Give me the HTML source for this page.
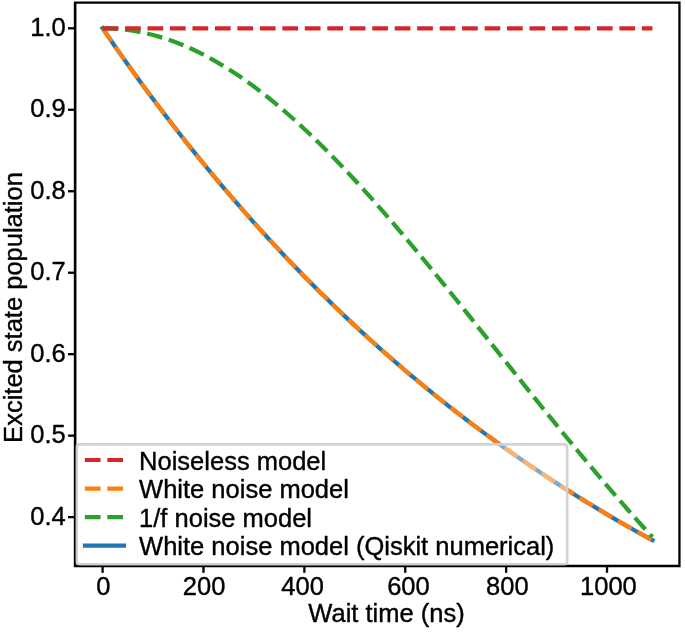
<!DOCTYPE html>
<html><head><meta charset="utf-8"><title>Excited state population vs wait time</title>
<style>
html,body{margin:0;padding:0;background:#fff;}
body{width:685px;height:633px;overflow:hidden;}
svg{display:block;}
text{font-family:"Liberation Sans",sans-serif;font-size:25.50px;fill:#000;stroke:#000;stroke-width:0.38px;stroke-linejoin:round;}
</style></head><body>
<svg width="685" height="633" viewBox="0 0 685 633">
<rect x="0" y="0" width="685" height="633" fill="#fff"/>

<g fill="none" stroke-width="4.24">
<path d="M102.59 28.30 L107.63 35.66 L112.68 42.96 L117.72 50.19 L122.77 57.36 L127.81 64.46 L132.86 71.49 L137.90 78.47 L142.94 85.38 L147.99 92.23 L153.03 99.01 L158.08 105.74 L163.12 112.40 L168.17 119.00 L173.21 125.55 L178.25 132.03 L183.30 138.46 L188.34 144.82 L193.39 151.13 L198.43 157.39 L203.48 163.58 L208.52 169.73 L213.56 175.81 L218.61 181.84 L223.65 187.82 L228.70 193.74 L233.74 199.61 L238.79 205.42 L243.83 211.18 L248.87 216.89 L253.92 222.55 L258.96 228.16 L264.01 233.72 L269.05 239.23 L274.10 244.68 L279.14 250.09 L284.18 255.45 L289.23 260.76 L294.27 266.02 L299.32 271.24 L304.36 276.40 L309.41 281.53 L314.45 286.60 L319.49 291.63 L324.54 296.61 L329.58 301.55 L334.63 306.44 L339.67 311.29 L344.72 316.10 L349.76 320.86 L354.81 325.58 L359.85 330.26 L364.89 334.89 L369.94 339.48 L374.98 344.04 L380.03 348.55 L385.07 353.01 L390.12 357.44 L395.16 361.83 L400.20 366.18 L405.25 370.49 L410.29 374.76 L415.34 378.99 L420.38 383.19 L425.43 387.34 L430.47 391.46 L435.51 395.54 L440.56 399.59 L445.60 403.59 L450.65 407.57 L455.69 411.50 L460.74 415.40 L465.78 419.27 L470.82 423.10 L475.87 426.89 L480.91 430.65 L485.96 434.38 L491.00 438.07 L496.05 441.73 L501.09 445.36 L506.13 448.95 L511.18 452.51 L516.22 456.04 L521.27 459.54 L526.31 463.01 L531.36 466.44 L536.40 469.84 L541.44 473.22 L546.49 476.56 L551.53 479.87 L556.58 483.15 L561.62 486.41 L566.67 489.63 L571.71 492.82 L576.75 495.99 L581.80 499.12 L586.84 502.23 L591.89 505.31 L596.93 508.36 L601.98 511.39 L607.02 514.39 L612.06 517.36 L617.11 520.30 L622.15 523.22 L627.20 526.11 L632.24 528.97 L637.29 531.81 L642.33 534.62 L647.37 537.41 L652.42 540.17" stroke="#1f77b4" stroke-linecap="square" stroke-linejoin="round"/>
<path d="M102.59 28.30 L107.63 35.66 L112.68 42.96 L117.72 50.19 L122.77 57.36 L127.81 64.46 L132.86 71.49 L137.90 78.47 L142.94 85.38 L147.99 92.23 L153.03 99.01 L158.08 105.74 L163.12 112.40 L168.17 119.00 L173.21 125.55 L178.25 132.03 L183.30 138.46 L188.34 144.82 L193.39 151.13 L198.43 157.39 L203.48 163.58 L208.52 169.73 L213.56 175.81 L218.61 181.84 L223.65 187.82 L228.70 193.74 L233.74 199.61 L238.79 205.42 L243.83 211.18 L248.87 216.89 L253.92 222.55 L258.96 228.16 L264.01 233.72 L269.05 239.23 L274.10 244.68 L279.14 250.09 L284.18 255.45 L289.23 260.76 L294.27 266.02 L299.32 271.24 L304.36 276.40 L309.41 281.53 L314.45 286.60 L319.49 291.63 L324.54 296.61 L329.58 301.55 L334.63 306.44 L339.67 311.29 L344.72 316.10 L349.76 320.86 L354.81 325.58 L359.85 330.26 L364.89 334.89 L369.94 339.48 L374.98 344.04 L380.03 348.55 L385.07 353.01 L390.12 357.44 L395.16 361.83 L400.20 366.18 L405.25 370.49 L410.29 374.76 L415.34 378.99 L420.38 383.19 L425.43 387.34 L430.47 391.46 L435.51 395.54 L440.56 399.59 L445.60 403.59 L450.65 407.57 L455.69 411.50 L460.74 415.40 L465.78 419.27 L470.82 423.10 L475.87 426.89 L480.91 430.65 L485.96 434.38 L491.00 438.07 L496.05 441.73 L501.09 445.36 L506.13 448.95 L511.18 452.51 L516.22 456.04 L521.27 459.54 L526.31 463.01 L531.36 466.44 L536.40 469.84 L541.44 473.22 L546.49 476.56 L551.53 479.87 L556.58 483.15 L561.62 486.41 L566.67 489.63 L571.71 492.82 L576.75 495.99 L581.80 499.12 L586.84 502.23 L591.89 505.31 L596.93 508.36 L601.98 511.39 L607.02 514.39 L612.06 517.36 L617.11 520.30 L622.15 523.22 L627.20 526.11 L632.24 528.97 L637.29 531.81 L642.33 534.62 L647.37 537.41 L652.42 540.17" stroke="#ff7f0e" stroke-dasharray="15.69 6.78"/>
<path d="M102.59 28.30 L107.63 28.37 L112.68 28.57 L117.72 28.90 L122.77 29.37 L127.81 29.98 L132.86 30.71 L137.90 31.58 L142.94 32.59 L147.99 33.72 L153.03 34.99 L158.08 36.39 L163.12 37.91 L168.17 39.57 L173.21 41.36 L178.25 43.27 L183.30 45.31 L188.34 47.48 L193.39 49.77 L198.43 52.19 L203.48 54.73 L208.52 57.39 L213.56 60.17 L218.61 63.06 L223.65 66.08 L228.70 69.21 L233.74 72.46 L238.79 75.82 L243.83 79.29 L248.87 82.87 L253.92 86.56 L258.96 90.35 L264.01 94.25 L269.05 98.25 L274.10 102.35 L279.14 106.55 L284.18 110.85 L289.23 115.24 L294.27 119.73 L299.32 124.31 L304.36 128.97 L309.41 133.72 L314.45 138.56 L319.49 143.48 L324.54 148.48 L329.58 153.55 L334.63 158.71 L339.67 163.93 L344.72 169.23 L349.76 174.59 L354.81 180.03 L359.85 185.52 L364.89 191.08 L369.94 196.70 L374.98 202.38 L380.03 208.11 L385.07 213.89 L390.12 219.72 L395.16 225.60 L400.20 231.53 L405.25 237.50 L410.29 243.51 L415.34 249.56 L420.38 255.64 L425.43 261.76 L430.47 267.91 L435.51 274.08 L440.56 280.29 L445.60 286.51 L450.65 292.76 L455.69 299.03 L460.74 305.32 L465.78 311.62 L470.82 317.93 L475.87 324.26 L480.91 330.59 L485.96 336.93 L491.00 343.27 L496.05 349.62 L501.09 355.96 L506.13 362.30 L511.18 368.64 L516.22 374.97 L521.27 381.29 L526.31 387.61 L531.36 393.91 L536.40 400.19 L541.44 406.46 L546.49 412.72 L551.53 418.95 L556.58 425.16 L561.62 431.35 L566.67 437.51 L571.71 443.65 L576.75 449.76 L581.80 455.84 L586.84 461.88 L591.89 467.90 L596.93 473.88 L601.98 479.83 L607.02 485.74 L612.06 491.61 L617.11 497.44 L622.15 503.23 L627.20 508.98 L632.24 514.68 L637.29 520.34 L642.33 525.96 L647.37 531.53 L652.42 537.05" stroke="#2ca02c" stroke-dasharray="15.69 6.78"/>
<path d="M102.59 28.30 L652.42 28.30" stroke="#d62728" stroke-dasharray="15.69 6.78"/>
</g>
<g stroke="#000" stroke-width="2.3">
<line x1="102.59" y1="565.90" x2="102.59" y2="572.85"/>
<line x1="203.48" y1="565.90" x2="203.48" y2="572.85"/>
<line x1="304.36" y1="565.90" x2="304.36" y2="572.85"/>
<line x1="405.25" y1="565.90" x2="405.25" y2="572.85"/>
<line x1="506.13" y1="565.90" x2="506.13" y2="572.85"/>
<line x1="607.02" y1="565.90" x2="607.02" y2="572.85"/>
<line x1="75.12" y1="517.12" x2="68.02" y2="517.12"/>
<line x1="75.12" y1="435.65" x2="68.02" y2="435.65"/>
<line x1="75.12" y1="354.18" x2="68.02" y2="354.18"/>
<line x1="75.12" y1="272.71" x2="68.02" y2="272.71"/>
<line x1="75.12" y1="191.24" x2="68.02" y2="191.24"/>
<line x1="75.12" y1="109.77" x2="68.02" y2="109.77"/>
<line x1="75.12" y1="28.30" x2="68.02" y2="28.30"/>
</g>
<path fill="#000" fill-rule="evenodd" d="M73.820 1.475H680.600V567.125H73.820Z M76.420 3.725H678.300V564.675H76.420Z"/>
<g text-anchor="middle">
<text x="103.29" y="594.50">0</text>
<text x="204.08" y="594.50">200</text>
<text x="302.56" y="594.50">400</text>
<text x="408.40" y="594.50">600</text>
<text x="507.33" y="594.50">800</text>
<text x="608.42" y="594.50">1000</text>
</g>
<g text-anchor="end">
<text x="65.80" y="524.52">0.4</text>
<text x="65.80" y="443.05">0.5</text>
<text x="65.80" y="361.58">0.6</text>
<text x="65.80" y="280.11">0.7</text>
<text x="65.80" y="198.64">0.8</text>
<text x="65.80" y="117.17">0.9</text>
<text x="65.80" y="35.70">1.0</text>
</g>
<text x="386.50" y="621.80" text-anchor="middle">Wait time (ns)</text>
<text transform="translate(22.40 307.50) rotate(-90)" text-anchor="middle">Excited state population</text>
<rect x="76.85" y="444.40" width="490.30" height="119.90" rx="2.8" ry="2.8" fill="#fff" fill-opacity="0.4" stroke="#d0d0d0" stroke-opacity="0.94" stroke-width="2.6"/>
<path d="M84.85 460.00 L123.6 460.00" fill="none" stroke="#d62728" stroke-width="4.24" stroke-dasharray="15.69 6.78"/>
<text x="139.10" y="469.60">Noiseless model</text>
<path d="M84.85 488.60 L123.6 488.60" fill="none" stroke="#ff7f0e" stroke-width="4.24" stroke-dasharray="15.69 6.78"/>
<text x="139.10" y="498.20">White noise model</text>
<path d="M84.85 517.20 L123.6 517.20" fill="none" stroke="#2ca02c" stroke-width="4.24" stroke-dasharray="15.69 6.78"/>
<text x="139.10" y="526.80">1/f noise model</text>
<path d="M85.0 545.60 L124.0 545.60" fill="none" stroke="#1f77b4" stroke-width="4.24" stroke-linecap="square"/>
<text x="139.10" y="555.20">White noise model (Qiskit numerical)</text>
</svg></body></html>
